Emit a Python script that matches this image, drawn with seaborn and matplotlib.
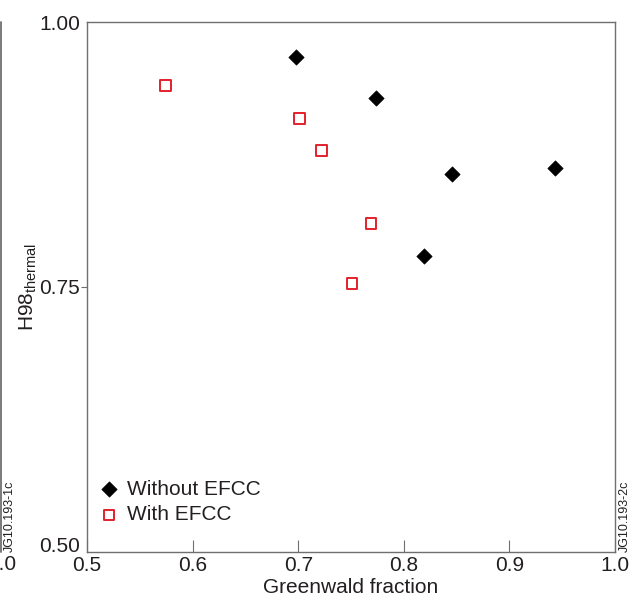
import matplotlib
matplotlib.use("Agg")
import matplotlib.pyplot as plt
from matplotlib.lines import Line2D
import seaborn as sns
import pandas as pd

# Greenwald fraction and confinement factor, shots without / with EFCC
without_x = [0.698, 0.774, 0.846, 0.943, 0.819]
without_y = [0.967, 0.928, 0.857, 0.862, 0.779]
with_x = [0.574, 0.701, 0.722, 0.769, 0.751]
with_y = [0.940, 0.909, 0.879, 0.810, 0.753]
series_labels = ["Without EFCC", "With EFCC"]
x_ticks = [0.5, 0.6, 0.7, 0.8, 0.9, 1.0]
y_ticks = [0.50, 0.75, 1.00]

df_without = pd.DataFrame({"gw": without_x, "h98": without_y})
df_with = pd.DataFrame({"gw": with_x, "h98": with_y})

sns.set_theme(style="white")
plt.rcParams["font.family"] = ["Liberation Sans", "DejaVu Sans"]
plt.rcParams["mathtext.fontset"] = "custom"
plt.rcParams["mathtext.rm"] = "Liberation Sans"
plt.rcParams["mathtext.it"] = "Liberation Sans:italic"

TXT = "#231f20"
SPINE = "#6f6f6f"
RED = "#e3202a"

fig = plt.figure(figsize=(6.37, 6.02), dpi=100)
ax = fig.add_axes([87 / 637, 50 / 602, 528 / 637, 530 / 602])

sns.scatterplot(data=df_without, x="gw", y="h98", marker="D", s=62,
                color="black", edgecolor="black", linewidth=0.4,
                label=series_labels[0], legend=False, ax=ax, zorder=3)
sns.scatterplot(data=df_with, x="gw", y="h98", marker="s", s=60,
                color=RED, linewidth=1.4,
                label=series_labels[1], legend=False, ax=ax, zorder=3)
# open squares for the EFCC series
sq = ax.collections[1]
sq.set_facecolor("none")
sq.set_edgecolor(RED)
sq.set_linewidth(1.4)

ax.set_xlim(0.5, 1.0)
ax.set_ylim(0.5, 1.0)
ax.set_xticks(x_ticks)
ax.set_xticklabels([f"{v:.1f}" for v in x_ticks])
ax.set_yticks(y_ticks)
ax.set_yticklabels([f"{v:.2f}" for v in y_ticks])

for s in ax.spines.values():
    s.set_color(SPINE)
    s.set_linewidth(1.0)

ax.tick_params(axis="x", direction="in", length=9, width=0.8, color=SPINE,
               labelsize=15, labelcolor=TXT, pad=3, bottom=True)
ax.tick_params(axis="y", direction="out", length=4.5, width=0.8, color=SPINE,
               labelsize=15, labelcolor=TXT, pad=0.5, left=True)
yt = ax.yaxis.get_major_ticks()
yt[0].tick1line.set_visible(False)
yt[-1].tick1line.set_visible(False)
# lowest y label sits on the baseline so it clears the x labels
yt[0].label1.set_verticalalignment("baseline")

ax.set_xlabel("Greenwald fraction", fontsize=15, color=TXT, labelpad=2)
ax.set_ylabel(r"H98$_{\mathregular{thermal}}$", fontsize=15, color=TXT,
              labelpad=0)

ax.legend(loc="lower left", bbox_to_anchor=(0.022, 0.052), frameon=False,
          fontsize=15, handlelength=1.0, handletextpad=0.35,
          labelspacing=0.32, borderpad=0, borderaxespad=0,
          labelcolor=TXT)

# neighbouring panel edge and figure identifiers
fig.add_artist(Line2D([1.2 / 637, 1.2 / 637], [50 / 602, 580 / 602],
                      color=SPINE, lw=1.3))
fig.text(1.5 / 637, 1 - 565 / 602, "1.0", fontsize=15, color=TXT,
         ha="center", va="center")
fig.text(10 / 637, 1 - 552 / 602, "JG10.193-1c", fontsize=9, color=TXT,
         rotation=90, ha="center", va="bottom")
fig.text(625 / 637, 1 - 552 / 602, "JG10.193-2c", fontsize=9, color=TXT,
         rotation=90, ha="center", va="bottom")

fig.savefig("out.png", dpi=100, facecolor="white")
